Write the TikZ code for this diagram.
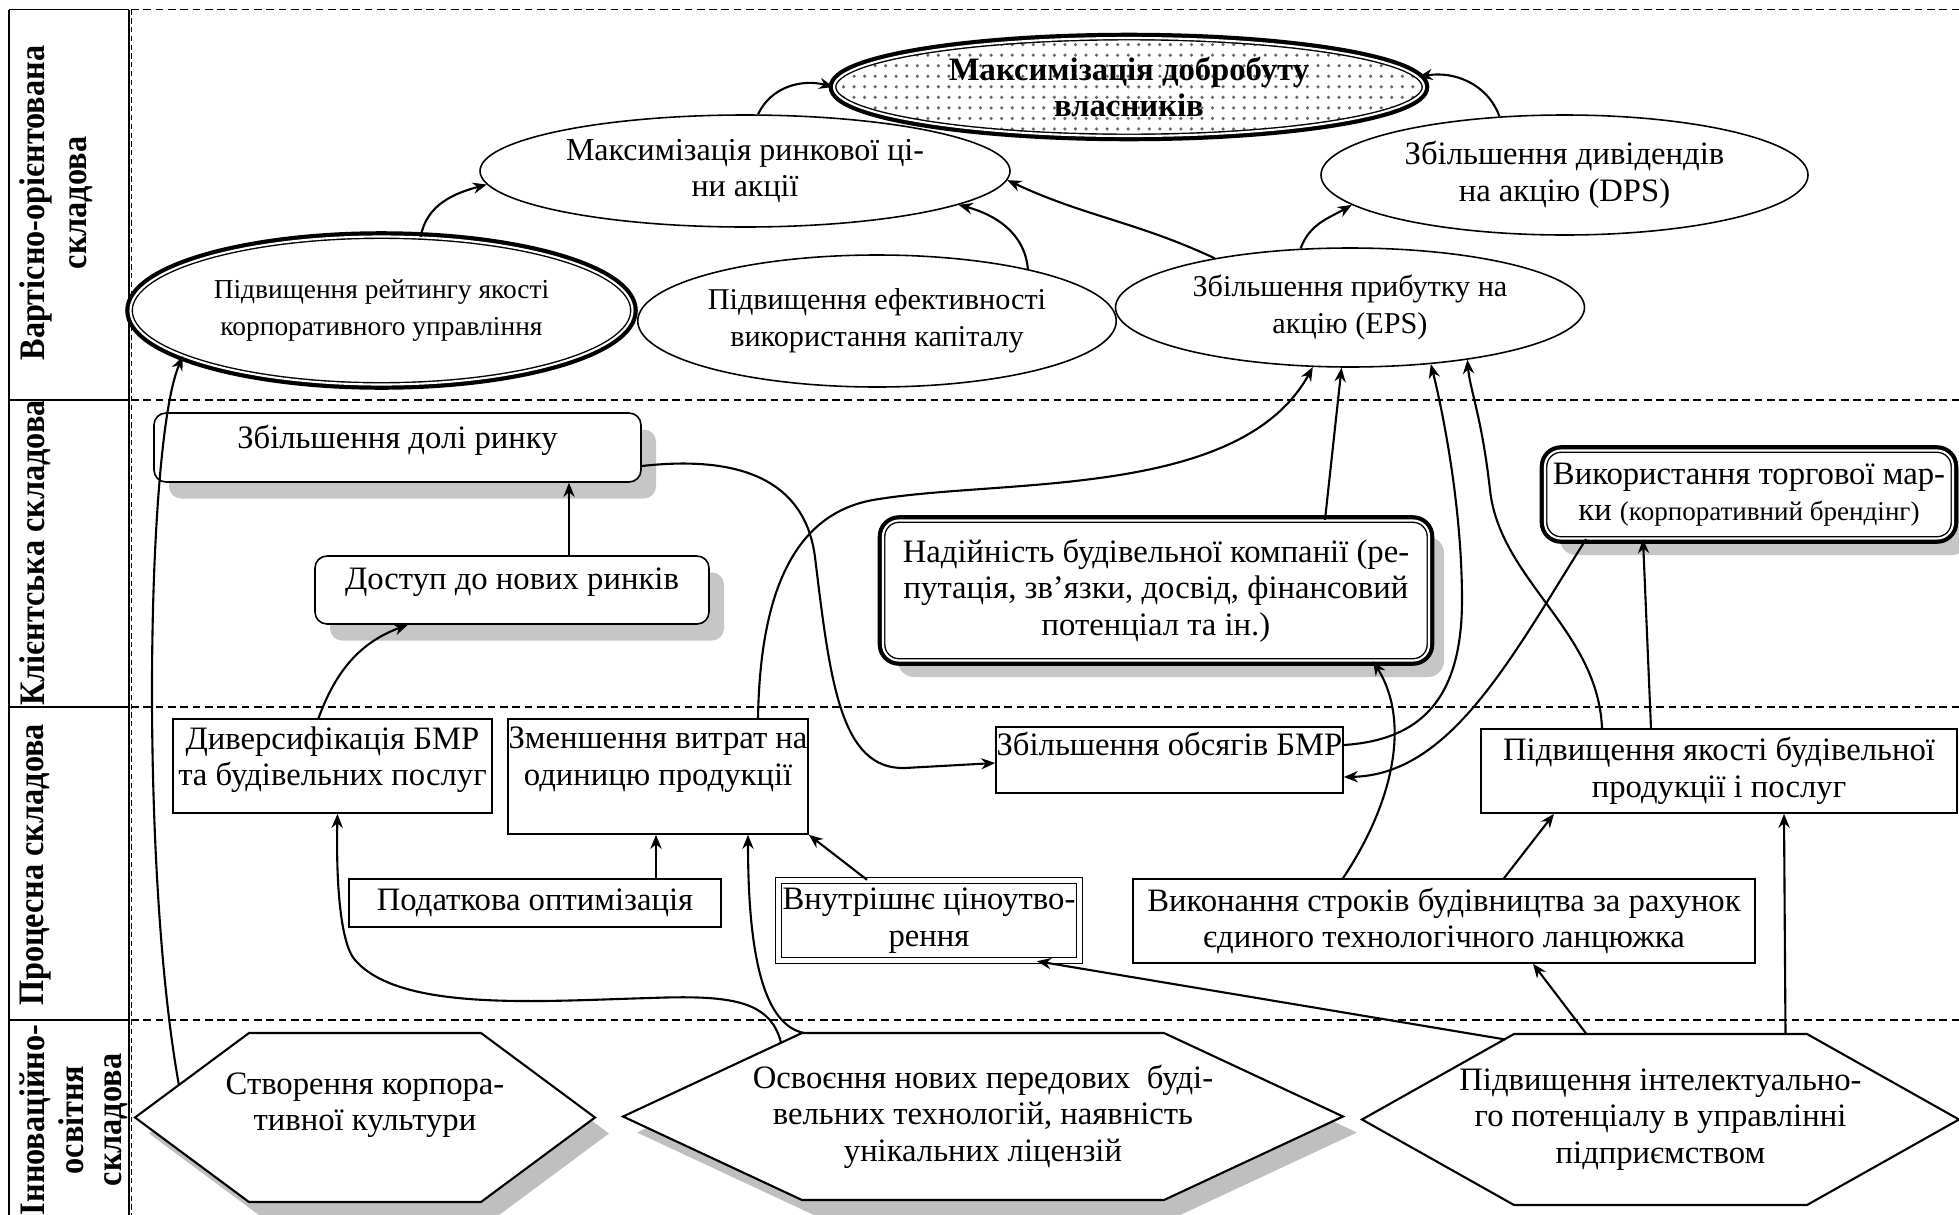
\documentclass[tikz,border=0pt]{standalone}
\usepackage{fontspec}
\setmainfont{Liberation Serif}
\usepackage{tikz}
\usetikzlibrary{shapes,shapes.geometric,backgrounds,shadows,patterns,arrows.meta}

\tikzset{
        every node/.style={font=\fontsize{9.3}{10.4}\selectfont, align=center, inner sep=0pt},
        oval/.style={ellipse, draw, line width=0.45pt},
        heavy/.style={preaction={draw, line width=3pt}, preaction={fill=white},
                draw, line width=0.4pt, double=white, double distance=0.6pt},
        card/.style={rectangle, rounded corners=1.2mm, draw, line width=0.45pt, fill=white},
        shadowed/.style={drop shadow={shadow xshift=0.15cm, shadow yshift=-0.165cm, fill=gray!45, opacity=1}},
        block/.style={rectangle, draw, line width=0.45pt, fill=white},
        hexa/.style={rectangle, outer sep=0pt},
        hexline/.style={draw, line width=0.6pt, fill=white},
        lane/.style={rotate=90, anchor=north, font=\fontsize{10.2}{11}\selectfont\bfseries\addfontfeatures{FakeStretch=0.9}},
        link/.style={-{Stealth[length=4pt,width=3.2pt]}, line width=0.6pt},
        divider/.style={dash pattern=on 2.2pt off 1.3pt, line width=0.5pt}
}

\begin{document}
\begin{tikzpicture}
        \useasboundingbox (0,0) rectangle (19.59,-12.15);
        \clip (0,0) rectangle (19.59,-12.15);

        \draw[line width=0.5pt] (0.09,-0.095) -- (0.09,-12.15) (1.29,-0.095) -- (1.29,-12.15)
                (0.09,-0.095) -- (1.29,-0.095) (0.09,-4.00) -- (1.29,-4.00)
                (0.09,-7.07) -- (1.29,-7.07) (0.09,-10.20) -- (1.29,-10.20);
        \draw[line width=0.3pt, dash pattern=on 1.5pt off 1pt] (1.315,-0.095) -- (1.315,-12.15);
        \draw[divider] (1.31,-0.095) -- (19.59,-0.095) (1.31,-4.00) -- (19.59,-4.00)
                (1.31,-7.07) -- (19.59,-7.07) (1.31,-10.20) -- (19.59,-10.20);

        \node[lane] (valuelab) at (0.19,-2.03) {Вартісно-орієнтована\\[1pt]складова};
        \node[lane] (clientlab) at (0.19,-5.53) {Клієнтська складова};
        \node[lane] (processlab) at (0.19,-8.65) {Процесна складова};
        \node[lane] (innolab) at (0.19,-11.20) {Інноваційно-\\освітня\\складова};

        \path[fill=gray!50] (1.49,-11.335) -- (2.63,-10.49) -- (4.95,-10.49) -- (6.09,-11.335) -- (4.95,-12.18) -- (2.63,-12.18) -- cycle;
        \path[fill=gray!50] (6.37,-11.325) -- (8.16,-10.49) -- (11.78,-10.49) -- (13.57,-11.325) -- (11.78,-12.16) -- (8.16,-12.16) -- cycle;
        \draw[hexline] (1.35,-11.175) -- (2.49,-10.33) -- (4.81,-10.33) -- (5.95,-11.175) -- (4.81,-12.02) -- (2.49,-12.02) -- cycle;
        \draw[hexline] (6.23,-11.165) -- (8.02,-10.33) -- (11.64,-10.33) -- (13.43,-11.165) -- (11.64,-12.00) -- (8.02,-12.00) -- cycle;
        \draw[hexline] (13.62,-11.195) -- (15.14,-10.34) -- (18.07,-10.34) -- (19.59,-11.195) -- (18.07,-12.05) -- (15.14,-12.05) -- cycle;

        \node[oval, heavy, pattern=dots, pattern color=black!60, minimum width=5.90cm, minimum height=0.98cm,
                font=\fontsize{9.3}{10.4}\selectfont\bfseries] (wealth) at (11.29,-0.87) {Максимізація добробуту\\власників};
        \node[oval, minimum width=5.30cm, minimum height=1.12cm, font=\fontsize{9.1}{10.4}\selectfont] (price) at (7.45,-1.71) {Максимізація ринкової ці-\\ни акції};
        \node[oval, minimum width=4.87cm, minimum height=1.20cm] (dps) at (15.645,-1.75) {Збільшення дивідендів\\на акцію (DPS)};
        \node[oval, heavy, minimum width=5.02cm, minimum height=1.48cm, font=\fontsize{7.8}{10.4}\selectfont] (rating) at (3.815,-3.105) {Підвищення рейтингу якості\\корпоративного управління};
        \node[oval, minimum width=4.70cm, minimum height=1.32cm, font=\fontsize{8.6}{10.4}\selectfont] (capital) at (8.77,-3.21) {Підвищення ефективності\\використання капіталу};
        \node[oval, minimum width=4.69cm, minimum height=1.19cm, font=\fontsize{8.6}{10.4}\selectfont] (eps) at (13.50,-3.075) {Збільшення прибутку на\\акцію (EPS)};

        \node[card, shadowed, minimum width=4.87cm, minimum height=0.69cm, text depth=6.1pt] (share) at (3.975,-4.475) {Збільшення долі ринку};
        \node[card, shadowed, minimum width=3.94cm, minimum height=0.68cm, text depth=6.7pt] (access) at (5.12,-5.90) {Доступ до нових ринків};
        \node[card, shadowed, heavy, rounded corners=1.6mm, minimum width=5.46cm, minimum height=1.40cm] (trust) at (11.56,-5.905) {Надійність будівельної компанії (ре-\\путація, зв’язки, досвід, фінансовий\\потенціал та ін.)};
        \node[card, shadowed, heavy, rounded corners=1.6mm, minimum width=4.08cm, minimum height=0.88cm] (brand) at (17.49,-4.945) {Використання торгової мар-\\ки {\fontsize{7.7}{10.4}\selectfont (корпоративний брендінг)}};

        \node[block, minimum width=3.19cm, minimum height=0.94cm, text depth=5.5pt] (divers) at (3.325,-7.66) {Диверсифікація БМР\\та будівельних послуг};
        \node[block, minimum width=3.00cm, minimum height=1.15cm, text depth=11.5pt] (costs) at (6.58,-7.765) {Зменшення витрат на\\одиницю продукції};
        \node[block, minimum width=3.47cm, minimum height=0.66cm, text depth=9.5pt] (volume) at (11.695,-7.60) {Збільшення обсягів БМР};
        \node[block, minimum width=4.76cm, minimum height=0.84cm] (quality) at (17.19,-7.71) {Підвищення якості будівельної\\продукції і послуг};
        \node[block, minimum width=3.72cm, minimum height=0.48cm] (tax) at (5.35,-9.03) {Податкова оптимізація};
        \node[block, double, double distance=1.2pt, line width=0.4pt, minimum width=3.01cm, minimum height=0.80cm] (pricing) at (9.29,-9.205) {Внутрішнє ціноутво-\\рення};
        \node[block, minimum width=6.22cm, minimum height=0.84cm] (terms) at (14.44,-9.21) {Виконання строків будівництва за рахунок\\єдиного технологічного ланцюжка};

        \node[hexa, minimum width=4.60cm, minimum height=1.69cm, text depth=8.9pt] (culture) at (3.65,-11.175) {Створення корпора-\\тивної культури};
        \node[hexa, minimum width=7.20cm, minimum height=1.67cm] (tech) at (9.83,-11.165) {Освоєння нових передових\ \ буді-\\вельних технологій, наявність\\унікальних ліцензій};
        \node[hexa, minimum width=5.97cm, minimum height=1.71cm] (intel) at (16.605,-11.195) {Підвищення інтелектуально-\\го потенціалу в управлінні\\підприємством};

        \draw[link] (price.77) to[out=65,in=165] (wealth.west);
        \draw[link] (dps.138) to[out=110,in=10] (wealth.2);
        \draw[link] (rating.62) to[out=80,in=195] (price.183);
        \draw[link] (capital.19) to[out=95,in=-15] (price.-9);
        \draw[link] (eps.160) to[out=155,in=-25] (price.-2);
        \draw[link] (eps.130) to[out=70,in=210] (dps.188);
        \draw[link] ([shift={(-1.86,0.32)}]culture.center) .. controls (1.40,-8.70) and (1.46,-4.40) .. (rating.193);
        \draw[link] ([xshift=0.57cm]access.north) -- ([xshift=0.57cm]access.north |- share.south);
        \draw[link] ([xshift=-0.14cm]divers.north) to[out=70,in=200] ([xshift=-1.04cm]access.south);
        \draw[link] ([yshift=-0.185cm]share.east) .. controls (7.40,-4.55) and (8.05,-4.80) .. (8.15,-5.57)
                .. controls (8.30,-6.80) and (8.40,-7.70) .. (9.05,-7.68) -- ([yshift=-0.03cm]volume.west);
        \draw[link] ([xshift=1.0cm]costs.north) .. controls (7.60,-6.00) and (7.90,-5.15) .. (8.73,-5.00)
                .. controls (10.00,-4.78) and (12.40,-5.00) .. (eps.238);
        \draw[link] ([xshift=1.69cm]trust.north) -- (eps.262);
        \draw[link] ([yshift=0.15cm]volume.east) .. controls (14.20,-7.40) and (14.62,-7.00) .. (14.62,-6.00)
                .. controls (14.62,-5.00) and (14.40,-4.00) .. (eps.-35);
        \draw[link] ([xshift=-1.63cm]brand.south) .. controls (15.10,-6.60) and (14.50,-7.75) .. ([yshift=-0.17cm]volume.east);
        \draw[link] ([xshift=-1.17cm]quality.north) .. controls (15.98,-6.30) and (15.00,-5.80) .. (14.90,-4.90)
                .. controls (14.82,-4.18) and (14.70,-3.90) .. (eps.-24);
        \draw[link] ([xshift=-0.68cm]quality.north) -- ([xshift=-1.06cm]brand.south);
        \draw[link] ([xshift=-1.01cm]terms.north) .. controls (13.95,-8.00) and (14.10,-7.20) .. ([xshift=2.17cm]trust.south);
        \draw[link] ([xshift=0.60cm]terms.north) -- ([xshift=-1.65cm]quality.south);
        \draw[link] ([xshift=1.21cm]tax.north) -- ([xshift=1.21cm]tax.north |- costs.south);
        \draw[link] ([xshift=-0.62cm]pricing.north) -- (costs.south east);
        \draw[link] ([xshift=-1.79cm]tech.north) .. controls (7.65,-10.25) and (7.48,-9.60) .. ([xshift=0.90cm]costs.south);
        \draw[link] ([shift={(-2.02,0.74)}]tech.center) .. controls (7.70,-10.00) and (7.30,-9.95) .. (6.50,-9.98)
                .. controls (5.40,-10.01) and (4.00,-10.12) .. (3.55,-9.60)
                .. controls (3.40,-9.43) and (3.36,-8.80) .. ([xshift=0.05cm]divers.south);
        \draw[link] ([xshift=-0.74cm]intel.north) -- ([xshift=0.89cm]terms.south);
        \draw[link] ([xshift=1.25cm]intel.north) -- ([xshift=0.65cm]quality.south);
        \draw[link] ([shift={(-1.55,0.80)}]intel.center) -- ([xshift=1.08cm]pricing.south);
\end{tikzpicture}
\end{document}
